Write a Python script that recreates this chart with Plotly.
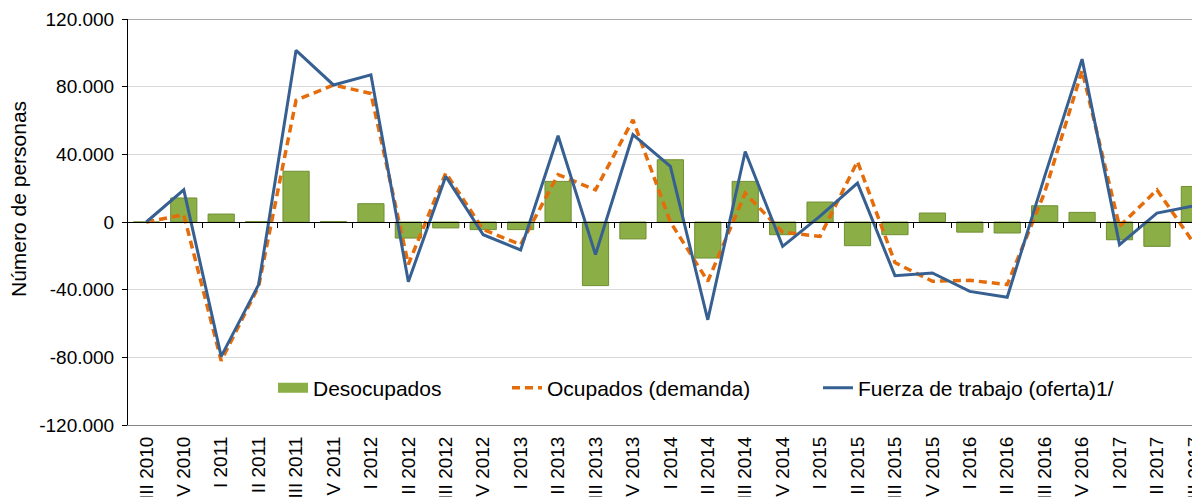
import plotly.graph_objects as go

categories = ["III 2010", "IV 2010", "I 2011", "II 2011", "III 2011", "IV 2011",
              "I 2012", "II 2012", "III 2012", "IV 2012", "I 2013", "II 2013",
              "III 2013", "IV 2013", "I 2014", "II 2014", "III 2014", "IV 2014",
              "I 2015", "II 2015", "III 2015", "IV 2015", "I 2016", "II 2016",
              "III 2016", "IV 2016", "I 2017", "II 2017", "III 2017"]

desocupados = [0, 14200, 4700, 300, 30000, 300, 10800, -9500, -3500, -4500,
               -4500, 24000, -37600, -10000, 36800, -21300, 24000, -7500,
               11800, -14000, -7500, 5300, -6000, -6500, 9600, 5700,
               -10500, -14400, 21000]

ocupados = [0, 4300, -82000, -38000, 72000, 81000, 76000, -25000, 29000, -4500,
            -13400, 28000, 19000, 60400, 0, -35000, 17000, -6000,
            -8500, 35800, -24000, -35000, -34500, -37000, 17500, 89500,
            -2600, 19000, -13000]

fuerza = [0, 19000, -79400, -37000, 101500, 81000, 87000, -35300, 27000, -7500,
          -16500, 51000, -19300, 51600, 32900, -57800, 41700, -14400,
          3500, 23000, -31700, -30100, -41000, -44500, 27000, 96300,
          -13400, 5300, 9600]

y_tickvals = [-120000, -80000, -40000, 0, 40000, 80000, 120000]
y_ticktext = ["-120.000", "-80.000", "-40.000", "0", "40.000", "80.000", "120.000"]

name_des = "Desocupados"
name_ocu = "Ocupados (demanda)"
name_fue = "Fuerza de trabajo (oferta)1/"
y_title = "Número de personas"

GREEN = "#8BAE46"
GREEN_LINE = "#6F8F32"
ORANGE = "#E46C0A"
BLUE = "#376092"
FONT = "Liberation Sans, Arial, sans-serif"

# the page body adds an 8px offset; all pixel positions below are page pixels
OFF = 8
PLOT_L, PLOT_R, PLOT_T, PLOT_B = 128, 1200, 19, 425

fig = go.Figure()

fig.add_trace(go.Bar(
    x=categories, y=desocupados, name=name_des, showlegend=False,
    marker=dict(color=GREEN, line=dict(color=GREEN_LINE, width=1)),
    width=0.7,
))
# legend swatch for the bars
fig.add_trace(go.Scatter(
    x=[None], y=[None], mode="lines", name=name_des,
    line=dict(color=GREEN, width=12), legend="legend",
))
fig.add_trace(go.Scatter(
    x=categories, y=ocupados, mode="lines", name=name_ocu,
    line=dict(color=ORANGE, width=3.5, dash="8px,5px"), legend="legend2",
))
fig.add_trace(go.Scatter(
    x=categories, y=fuerza, mode="lines", name=name_fue,
    line=dict(color=BLUE, width=3), legend="legend3",
))

x_range = [-0.49, 28.15]
boundaries = [i + 0.5 for i in range(-1, 29)]

leg_common = dict(orientation="h", yanchor="middle", xanchor="left",
                  bgcolor="rgba(0,0,0,0)", borderwidth=0,
                  font=dict(family=FONT, size=21, color="#000000"))
plot_w = PLOT_R - PLOT_L
plot_h = PLOT_B - PLOT_T
def px_to_paper_x(px):
    return (px - PLOT_L) / plot_w
def px_to_paper_y(py):
    return (PLOT_B - py) / plot_h

fig_w = 1200 - OFF
fig_h = 497 - OFF

fig.update_layout(
    width=fig_w, height=fig_h,
    margin=dict(l=PLOT_L - OFF, r=0, t=PLOT_T - OFF, b=fig_h - (PLOT_B - OFF)),
    paper_bgcolor="white", plot_bgcolor="white",
    font=dict(family=FONT, size=19, color="#000000"),
    legend=dict(x=px_to_paper_x(273), y=px_to_paper_y(388), **leg_common),
    legend2=dict(x=px_to_paper_x(507), y=px_to_paper_y(388), **leg_common),
    legend3=dict(x=px_to_paper_x(818), y=px_to_paper_y(388), **leg_common),
    xaxis=dict(
        type="category", range=x_range,
        showgrid=False, zeroline=False,
        showline=True, linecolor="#868686", linewidth=1,
        ticks="", tickangle=-90,
        tickfont=dict(family=FONT, size=19, color="#000000"),
        ticklabelstandoff=3,
        automargin=False,
    ),
    xaxis2=dict(
        overlaying="x", anchor="free", position=0.5, side="bottom",
        range=x_range, showgrid=False, zeroline=False,
        showline=True, linecolor="#000000", linewidth=1,
        tickmode="array", tickvals=boundaries, ticks="outside",
        ticklen=5, tickcolor="#000000", showticklabels=False,
    ),
    yaxis=dict(
        range=[-120000, 120000],
        tickmode="array", tickvals=y_tickvals, ticktext=y_ticktext,
        showgrid=True, gridcolor="#D9D9D9", gridwidth=1,
        zeroline=False,
        showline=True, linecolor="#000000", linewidth=1,
        ticks="outside", ticklen=5, tickcolor="#000000",
        tickfont=dict(family=FONT, size=19, color="#000000"),
        ticklabelstandoff=4,
        automargin=False,
    ),
    shapes=[
        dict(type="line", xref="paper", yref="y", x0=0, x1=1,
             y0=120000, y1=120000, line=dict(color="#AAAAAA", width=2)),
    ],
    annotations=[
        dict(text=y_title, textangle=-90, xref="paper", yref="paper",
             x=px_to_paper_x(18), y=px_to_paper_y(199),
             xanchor="center", yanchor="middle", showarrow=False,
             font=dict(family=FONT, size=21, color="#000000")),
    ],
)

# dummy trace on xaxis2 so the zero-line ticks are drawn
fig.add_trace(go.Scatter(x=[None], y=[None], xaxis="x2", showlegend=False,
                         hoverinfo="skip"))

fig.write_html("out.html")
